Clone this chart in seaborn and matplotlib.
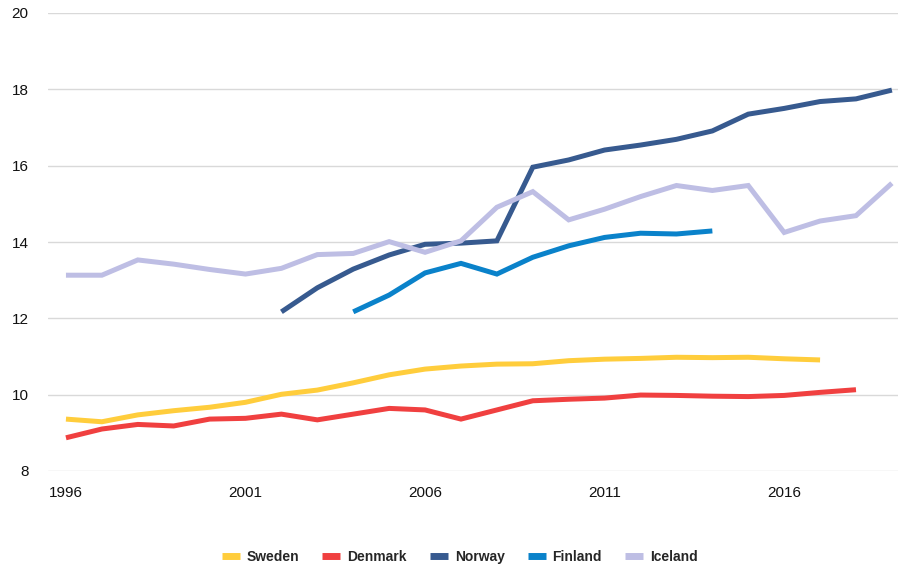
import numpy as np
import pandas as pd
import matplotlib
matplotlib.use("Agg")
import matplotlib.pyplot as plt
import seaborn as sns

years = list(range(1996, 2020))

sweden = [9.36, 9.29, 9.47, 9.58, 9.67, 9.80, 10.01, 10.12, 10.31, 10.52, 10.67, 10.75,
          10.80, 10.81, 10.89, 10.93, 10.95, 10.98, 10.97, 10.98, 10.94, 10.91, None, None]
denmark = [8.87, 9.10, 9.22, 9.18, 9.36, 9.38, 9.49, 9.34, 9.49, 9.64, 9.60, 9.36,
           9.60, 9.84, 9.88, 9.91, 9.99, 9.98, 9.96, 9.95, 9.98, 10.06, 10.13, None]
norway = [None, None, None, None, None, None, 12.17, 12.80, 13.29, 13.66, 13.94, 13.97,
          14.03, 15.96, 16.15, 16.41, 16.54, 16.69, 16.91, 17.35, 17.50, 17.68, 17.75, 17.98]
finland = [None, None, None, None, None, None, None, None, 12.17, 12.61, 13.19, 13.44,
           13.16, 13.60, 13.90, 14.12, 14.23, 14.21, 14.29, None, None, None, None, None]
iceland = [13.13, 13.13, 13.53, 13.42, 13.28, 13.16, 13.31, 13.67, 13.70, 14.01, 13.73, 14.03,
           14.91, 15.32, 14.58, 14.86, 15.19, 15.48, 15.35, 15.48, 14.25, 14.55, 14.69, 15.54]

countries = ["Sweden", "Denmark", "Norway", "Finland", "Iceland"]
colors = ["#FFCD3C", "#F04040", "#375A8F", "#0A82CA", "#BEBEE4"]
yticks = [8, 10, 12, 14, 16, 18, 20]
xticks = [1996, 2001, 2006, 2011, 2016]

series = dict(zip(countries, [sweden, denmark, norway, finland, iceland]))
df = pd.DataFrame({"Year": years, **series}).melt(id_vars="Year", var_name="Country",
                                                   value_name="Value").dropna()

sns.set_theme(style="white")
plt.rcParams["font.family"] = ["Liberation Sans", "DejaVu Sans"]

fig = plt.figure(figsize=(8.98, 5.68), dpi=100)
ax = fig.add_axes([48 / 898, 1 - 471 / 568, 1 - 48 / 898, (471 - 13) / 568])

sns.lineplot(data=df, x="Year", y="Value", hue="Country", hue_order=countries,
             palette=colors, linewidth=3.6, ax=ax, legend=False, sort=True)
for line in ax.get_lines():
    line.set_solid_capstyle("butt")
    line.set_solid_joinstyle("miter")

ax.set_xlim(1995.5, 2019.17)
ax.set_ylim(8, 20)
ax.set_yticks(yticks)
ax.set_xticks(xticks)
ax.set_xticklabels([str(x) for x in xticks])
ax.set_xlabel("")
ax.set_ylabel("")
ax.grid(axis="y", color="#D9D9D9", linewidth=1.0)
ax.set_axisbelow(True)
for s in ax.spines.values():
    s.set_visible(False)
ax.tick_params(axis="both", length=0, labelsize=11, colors="#111111")
ax.tick_params(axis="y", pad=14)
ax.tick_params(axis="x", pad=11)
for lbl in ax.get_yticklabels():
    lbl.set_verticalalignment("center_baseline")

handles = [plt.Line2D([], [], color=c, linewidth=5, solid_capstyle="butt") for c in colors]
leg = fig.legend(handles, countries, loc="center", bbox_to_anchor=(0.512, 0.019),
                 ncol=5, frameon=False, handlelength=1.3, handletextpad=0.5,
                 columnspacing=1.65, prop={"weight": "bold", "size": 10})

fig.savefig("out.png", dpi=100, facecolor="white")
